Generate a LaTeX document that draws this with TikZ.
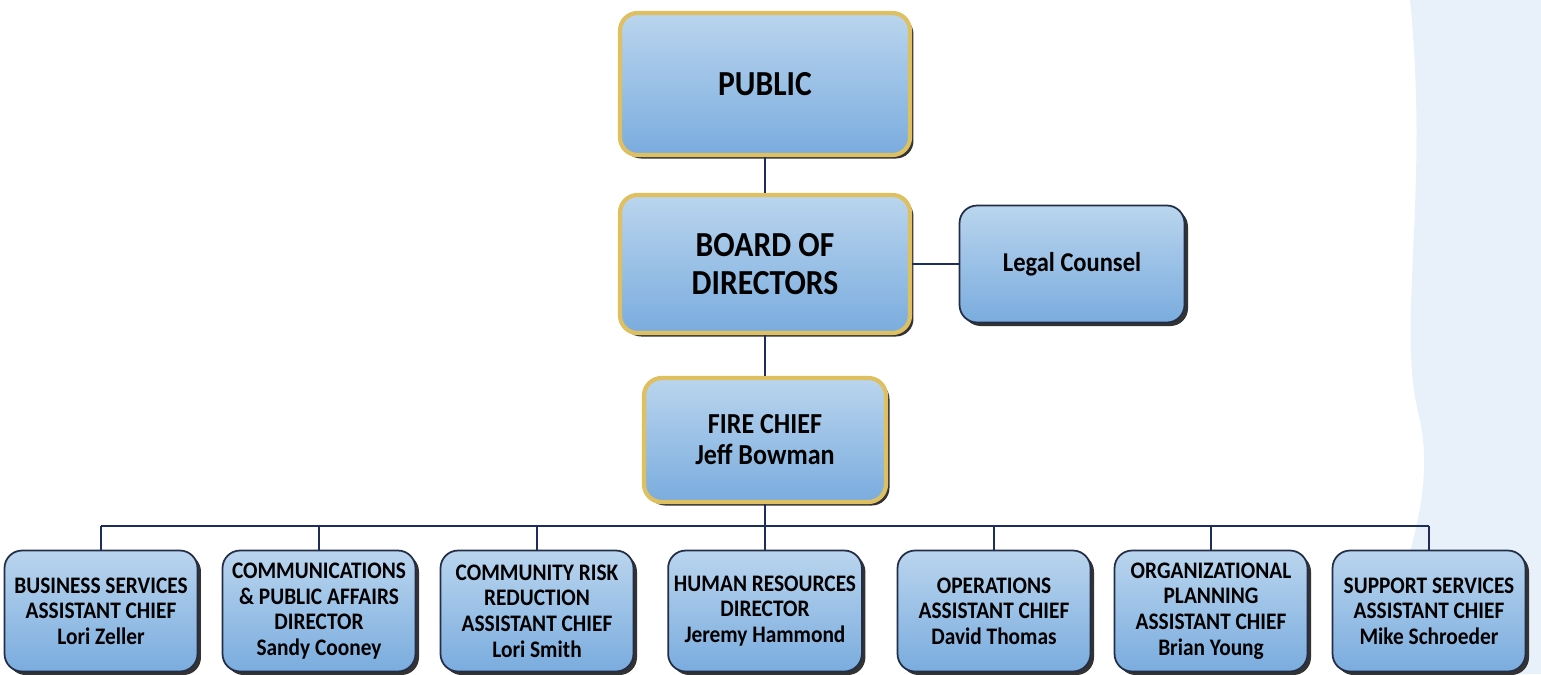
\documentclass[tikz,border=0pt]{standalone}
\usepackage{fontspec}
\setmainfont{Carlito}[FakeStretch=0.9]
\usetikzlibrary{shadows, positioning}
\definecolor{linenavy}{RGB}{31, 45, 90}
\definecolor{boxedge}{RGB}{35, 45, 70}
\definecolor{boxtop}{RGB}{186, 213, 238}
\definecolor{boxbot}{RGB}{122, 172, 222}
\definecolor{goldline}{RGB}{222, 192, 96}
\definecolor{washblue}{RGB}{216, 232, 246}

\begin{document}
\begin{tikzpicture}[x=0.02cm, y=-0.02cm,
  orgbox/.style={draw=boxedge, line width=1pt, rounded corners=10pt, top color=boxtop, bottom color=boxbot, align=center, font=\bfseries,
    drop shadow={shadow xshift=2pt, shadow yshift=-2pt, fill=black!80, opacity=1}},
  goldbox/.style={orgbox, draw=goldline, line width=2.4pt},
  unitbox/.style={orgbox, minimum width=3.86cm, minimum height=2.42cm, font=\bfseries\fontsize{13.5}{14.6}\selectfont},
  link/.style={draw=linenavy, line width=1.4pt}]
  \useasboundingbox (0,0) rectangle (1541,674);

  % Background wash
  \fill[washblue, opacity=0.6] (1410,0) .. controls (1430,200) and (1395,330) .. (1420,420) .. controls (1440,520) and (1380,600) .. (1390,674) -- (1541,674) -- (1541,0) -- cycle;

  % Top of the chart
  \node[goldbox, minimum width=5.8cm, minimum height=2.84cm, font=\bfseries\fontsize{20}{24}\selectfont] (public) at (765,84) {PUBLIC};
  \node[goldbox, minimum width=5.8cm, minimum height=2.76cm, font=\bfseries\fontsize{20}{21.5}\selectfont] (board) at (765,264) {BOARD OF\\DIRECTORS};
  \node[orgbox, minimum width=4.5cm, minimum height=2.34cm, font=\bfseries\fontsize{15.5}{18}\selectfont] (legal) at (1072,264) {Legal Counsel};
  \node[goldbox, minimum width=4.84cm, minimum height=2.48cm, font=\bfseries\fontsize{16.5}{17.6}\selectfont] (chief) at (765,440) {FIRE CHIEF\\Jeff Bowman};

  % Units
  \foreach \nm/\x/\txt in {
      business/101/{BUSINESS SERVICES\\ASSISTANT CHIEF\\Lori Zeller},
      comms/319/{COMMUNICATIONS\\\& PUBLIC AFFAIRS\\DIRECTOR\\Sandy Cooney},
      risk/537/{COMMUNITY RISK\\REDUCTION\\ASSISTANT CHIEF\\Lori Smith},
      hr/765/{HUMAN RESOURCES\\DIRECTOR\\Jeremy Hammond},
      ops/994/{OPERATIONS\\ASSISTANT CHIEF\\David Thomas},
      planning/1211/{ORGANIZATIONAL\\PLANNING\\ASSISTANT CHIEF\\Brian Young},
      support/1429/{SUPPORT SERVICES\\ASSISTANT CHIEF\\Mike Schroeder}}
    \node[unitbox] (\nm) at (\x,611) {\txt};

  % Connectors
  \coordinate (bus) at (765,526);
  \draw[link] (public.south) -- (board.north);
  \draw[link] (board.south) -- (chief.north);
  \draw[link] (board.east) -- (legal.west);
  \draw[link] (chief.south) -- (bus);
  \draw[link] (business.north |- bus) -- (support.north |- bus);
  \foreach \nm in {business, comms, risk, hr, ops, planning, support}
    \draw[link] (\nm.north |- bus) -- (\nm.north);
\end{tikzpicture}
\end{document}
